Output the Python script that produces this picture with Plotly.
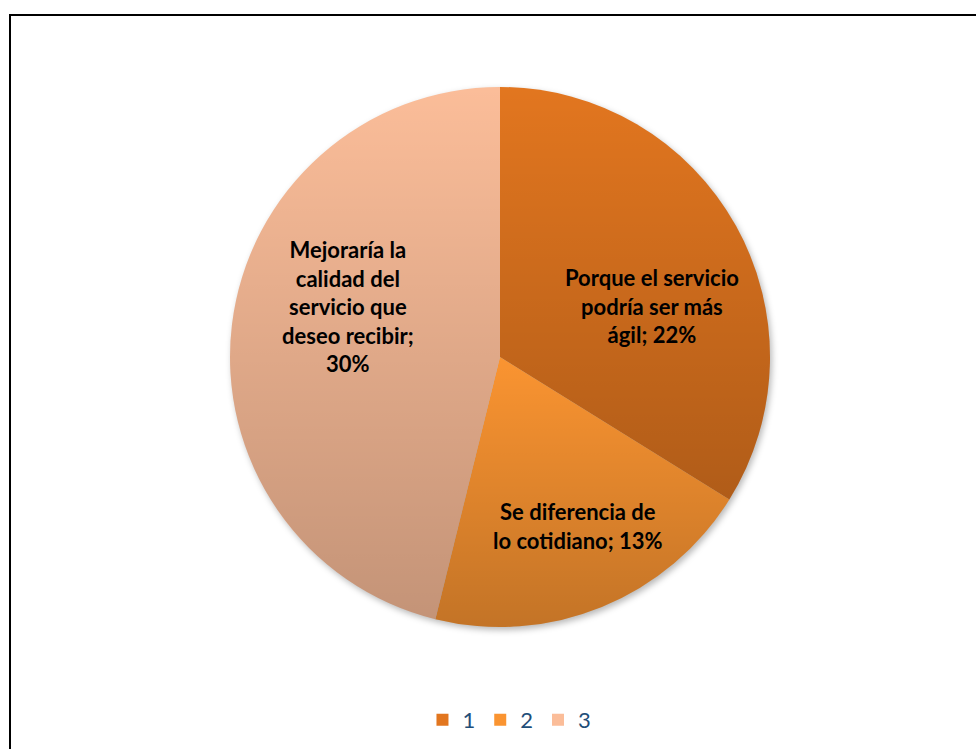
import math
import urllib.parse
import plotly.graph_objects as go

# Survey answers and their shares
categories = ["1", "2", "3"]
answers = [
    "Porque el servicio<br>podría ser más<br>ágil",
    "Se diferencia de<br>lo cotidiano",
    "Mejoraría la<br>calidad del<br>servicio que<br>deseo recibir;",
]
values = [22, 13, 30]
colors = ["#E2761F", "#FA9431", "#FBBD99"]

W, H = 976, 749
# pie placement in pixels
cx, cy, r = 500, 357, 270
dom_x = [(cx - r) / W, (cx + r) / W]
dom_y = [(H - (cy + r)) / H, (H - (cy - r)) / H]

fig = go.Figure(
    go.Pie(
        labels=categories,
        values=values,
        sort=False,
        direction="clockwise",
        rotation=0,
        marker=dict(colors=colors, line=dict(width=0)),
        textinfo="none",
        hoverinfo="label+value",
        domain=dict(x=dom_x, y=dom_y),
    )
)

# data labels
label_pos = [(652, 306), (578, 526), (348, 306)]
for ans, v, (px, py) in zip(answers, values, label_pos):
    sep = "<br>" if ans.endswith(";") else "; "
    fig.add_annotation(
        x=px / W, y=1 - py / H, xref="paper", yref="paper",
        text=f"<b>{ans}{sep}{v}%</b>", showarrow=False,
        font=dict(family="Lato", size=22, color="black"),
        align="center", xanchor="center", yanchor="middle",
    )


def svg_uri(body, w, h):
    svg = f"<svg xmlns='http://www.w3.org/2000/svg' width='{w}' height='{h}'>{body}</svg>"
    return "data:image/svg+xml;charset=utf-8," + urllib.parse.quote(svg)


# soft drop shadow under the pie
pad = 12
shadow = (
    "<defs><filter id='b' x='-10%' y='-10%' width='120%' height='120%'>"
    "<feGaussianBlur stdDeviation='3'/></filter></defs>"
    f"<circle cx='{r + pad + 2}' cy='{r + pad + 3}' r='{r}' fill='black' "
    "fill-opacity='0.28' filter='url(#b)'/>"
)
fig.add_layout_image(
    source=svg_uri(shadow, 2 * (r + pad), 2 * (r + pad)),
    xref="paper", yref="paper",
    x=(cx - r - pad) / W, y=1 - (cy - r - pad) / H,
    sizex=2 * (r + pad) / W, sizey=2 * (r + pad) / H,
    xanchor="left", yanchor="top", sizing="stretch", layer="below",
)

# per-slice top-to-bottom shading, following the same shares as the pie
total = sum(values)
grad = (
    "<defs><linearGradient id='g' x1='0' y1='0' x2='0' y2='1'>"
    "<stop offset='0' stop-color='black' stop-opacity='0'/>"
    "<stop offset='1' stop-color='black' stop-opacity='0.22'/>"
    "</linearGradient></defs>"
)
paths = []
start = 0.0
for v in values:
    end = start + v / total * 2 * math.pi
    x0, y0 = r + r * math.sin(start), r - r * math.cos(start)
    x1, y1 = r + r * math.sin(end), r - r * math.cos(end)
    large = 1 if end - start > math.pi else 0
    paths.append(
        f"<path d='M{r},{r} L{x0:.2f},{y0:.2f} A{r},{r} 0 {large} 1 {x1:.2f},{y1:.2f} Z' "
        "fill='url(#g)'/>"
    )
    start = end
fig.add_layout_image(
    source=svg_uri(grad + "".join(paths), 2 * r, 2 * r),
    xref="paper", yref="paper",
    x=dom_x[0], y=dom_y[1], sizex=dom_x[1] - dom_x[0], sizey=dom_y[1] - dom_y[0],
    xanchor="left", yanchor="top", sizing="stretch", layer="above",
)

# outer frame
fig.add_shape(
    type="rect", xref="paper", yref="paper",
    x0=10 / W, x1=1.02, y0=-0.02, y1=1 - 15 / H,
    line=dict(color="black", width=2), fillcolor="rgba(0,0,0,0)",
)

fig.update_layout(
    width=W, height=H,
    margin=dict(l=0, r=0, t=0, b=0),
    paper_bgcolor="white",
    plot_bgcolor="rgba(0,0,0,0)",
    showlegend=True,
    legend=dict(
        orientation="h", x=0.522, xanchor="center", y=1 - 720 / H, yanchor="middle",
        font=dict(family="Lato", size=22, color="#1F4E79"),
        itemwidth=30, tracegroupgap=0, bgcolor="rgba(0,0,0,0)",
    ),
)

fig.write_html("out.html")
